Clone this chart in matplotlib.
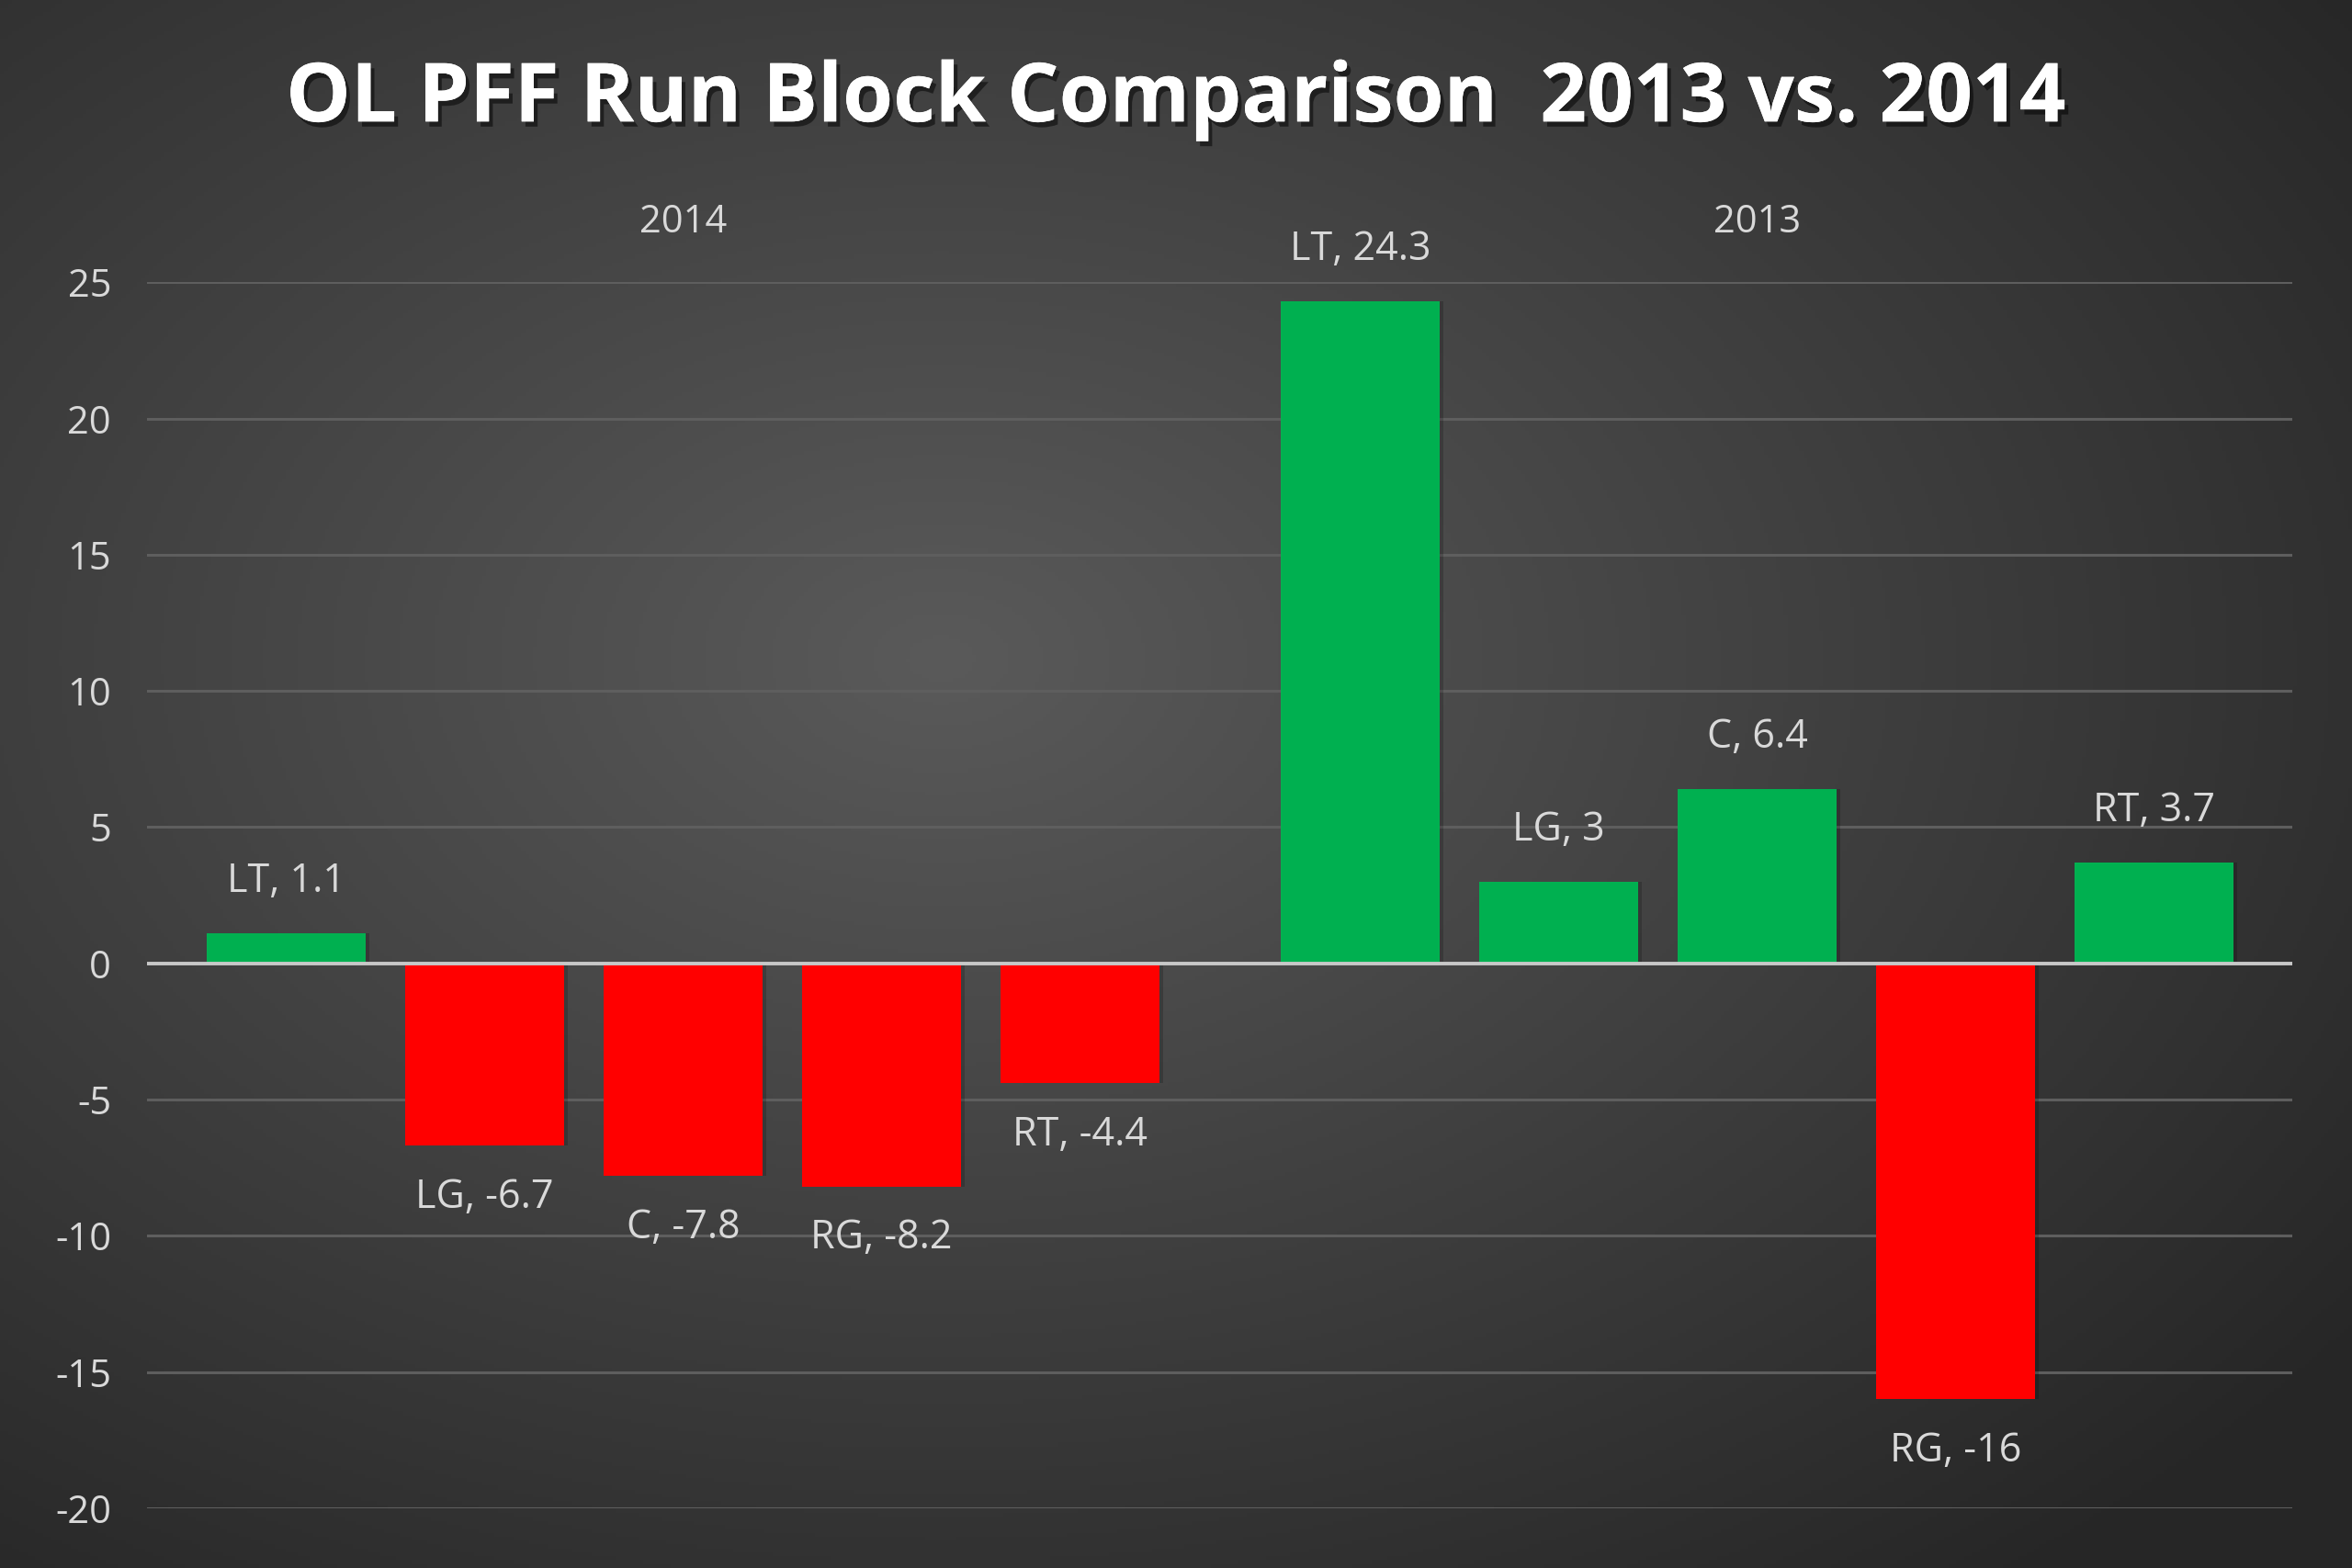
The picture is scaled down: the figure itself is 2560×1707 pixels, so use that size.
import numpy as np
import matplotlib
matplotlib.use("Agg")
import matplotlib.pyplot as plt
import matplotlib.patheffects as pe

title = "OL PFF Run Block Comparison  2013 vs. 2014"
groups = ["2014", "2013"]
positions_lbl = ["LT", "LG", "C", "RG", "RT"]
values_2014 = [1.1, -6.7, -7.8, -8.2, -4.4]
values_2013 = [24.3, 3, 6.4, -16, 3.7]
yticks = [-20, -15, -10, -5, 0, 5, 10, 15, 20, 25]

W, H = 2560, 1707
fig = plt.figure(figsize=(W / 100, H / 100), dpi=100)

# radial gradient background
bg = fig.add_axes([0, 0, 1, 1], zorder=-10)
yy, xx = np.mgrid[0:1:400j, 0:1:600j]
r = np.sqrt(((xx - 0.40) / 0.75) ** 2 + ((yy - 0.42) / 0.75) ** 2)
r = np.clip(r, 0, 1)
c = 0x5a / 255 * (1 - r) + 0x26 / 255 * r
img = np.dstack([c, c, c])
bg.imshow(img, extent=[0, 1, 0, 1], aspect="auto", origin="upper")
bg.axis("off")

ax = fig.add_axes([0.0625, 0.0382, 0.912, 0.7818])
ax.set_facecolor("none")
for s in ax.spines.values():
    s.set_visible(False)

font = "Open Sans"
txtcol = "#d9d9d9"
gap = 0.414
all_vals = values_2014 + values_2013
xs = []
for g, vals in enumerate([values_2014, values_2013]):
    for i in range(len(vals)):
        xs.append(i + g * (len(vals) + gap))
xs = np.array(xs)
labels = positions_lbl * 2

colors = ["#00b050" if v >= 0 else "#ff0000" for v in all_vals]
# shadow
ax.bar(xs + 0.02, all_vals, width=0.8, color="black", alpha=0.18, zorder=2)
ax.bar(xs, all_vals, width=0.8, color=colors, zorder=3)

ax.set_ylim(-20, 25)
ax.set_xlim(-0.703, 10.11)
ax.set_yticks(yticks)
ax.set_yticklabels([str(t) for t in yticks], fontsize=30, color=txtcol, family=font)
ax.tick_params(axis="y", length=0, pad=28)
ax.set_xticks([])
for t in yticks:
    ax.axhline(t, color="#5e5e5e" if t != 0 else "#c8c8c8", lw=2.2 if t != 0 else 2.8,
               zorder=1 if t != 0 else 4)

for x, v, l in zip(xs, all_vals, labels):
    off = 1.9
    y = v + off if v >= 0 else v - off
    ax.text(x, y, f"{l}, {v:g}", ha="center", va="center", fontsize=31,
            color=txtcol, family=font, zorder=5)

for g, name in enumerate(groups):
    cx = 2 + g * (len(positions_lbl) + gap)
    ax.text(cx, 27.2, name, ha="center", va="center", fontsize=30, color=txtcol,
            family=font)

fig.text(0.5, 0.936, title, ha="center", va="center", fontsize=64, weight="bold",
         color="white", family=font,
         path_effects=[pe.withSimplePatchShadow(offset=(3, -4), shadow_rgbFace="black", alpha=0.5), pe.Normal()])

fig.savefig("out.png", dpi=100)
